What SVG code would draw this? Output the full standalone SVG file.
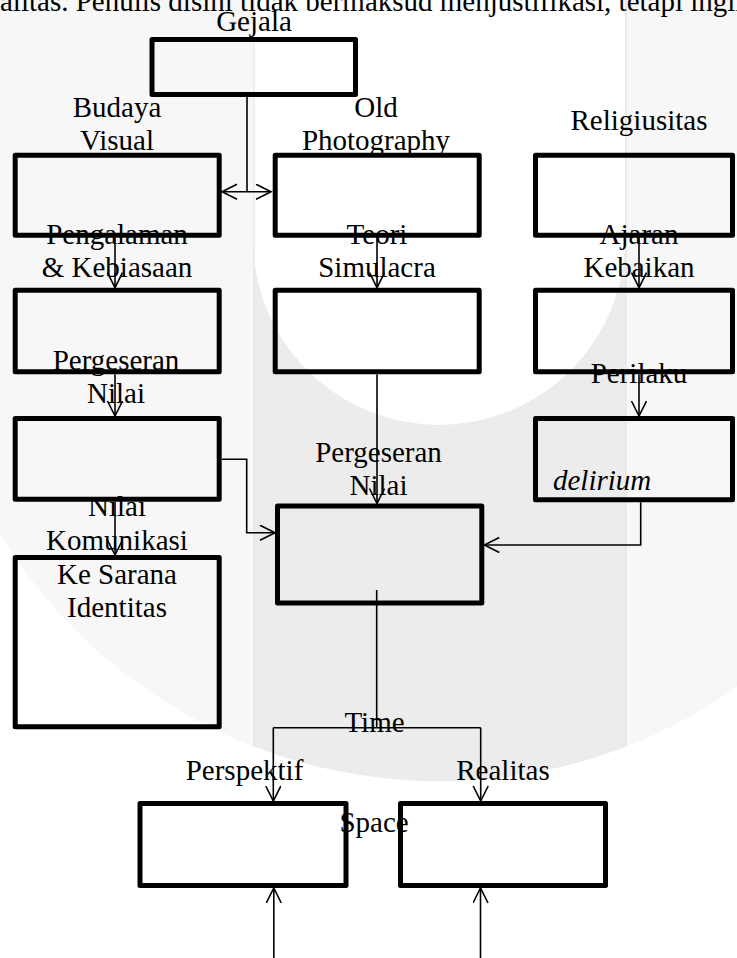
<svg xmlns="http://www.w3.org/2000/svg" width="737" height="958" viewBox="0 0 737 958">
<style>
.t{font-family:"Liberation Serif","Times New Roman",serif;font-size:29px;fill:#000;text-anchor:middle}
.box{fill:none;stroke:#000;stroke-width:5;stroke-linejoin:round}
.c{fill:none;stroke:#000;stroke-width:1.6}
.a{marker-end:url(#ah)}
</style>
<defs>
<marker id="ah" markerUnits="userSpaceOnUse" markerWidth="20" markerHeight="20" refX="16" refY="8" orient="auto-start-reverse">
<path d="M1,0.5 L16,8 L1,15.5" fill="none" stroke="#000" stroke-width="1.6"/>
</marker>
<clipPath id="wm"><path d="M0,0 H737 V687 A515,515 0 0 1 0,534 Z"/></clipPath>
</defs>
<g id="watermark">
<rect x="0" y="0" width="737" height="958" fill="#fff"/>
<g clip-path="url(#wm)">
<rect x="0" y="0" width="254" height="958" fill="#f7f7f7"/>
<rect x="254" y="0" width="372" height="958" fill="#ececec"/>
<rect x="626" y="0" width="111" height="958" fill="#f7f7f7"/>
<path d="M253,0 H625 V239 A186,186 0 0 1 253,239 Z" fill="#fff"/>
<path d="M254,0 V958 M626,0 V958" stroke="#e3e3e3" stroke-width="1.2"/>
</g>
</g>
<text class="t" x="0" y="11" style="text-anchor:start">alitas. Penulis disini tidak bermaksud menjustifikasi, tetapi ingin</text>
<g id="gejala"><rect class="box" x="152" y="39.5" width="203.5" height="55"/><text class="t" x="254" y="31">Gejala</text></g>
<g id="budaya-visual"><rect class="box" x="15.2" y="155.2" width="204" height="80"/><text class="t" x="117" y="117">Budaya</text><text class="t" x="117" y="150">Visual</text></g>
<g id="old-photography"><rect class="box" x="275.2" y="155.2" width="204" height="80"/><text class="t" x="376" y="117">Old</text><text class="t" x="376" y="150">Photography</text></g>
<g id="religiusitas"><rect class="box" x="535.5" y="155.2" width="197" height="80"/><text class="t" x="639" y="130">Religiusitas</text></g>
<g id="pengalaman"><rect class="box" x="15.2" y="290.2" width="204" height="81.6"/><text class="t" x="117" y="244">Pengalaman</text><text class="t" x="117" y="277">&amp; Kebiasaan</text></g>
<g id="teori-simulacra"><rect class="box" x="275.2" y="290.2" width="204" height="81.6"/><text class="t" x="377" y="244">Teori</text><text class="t" x="377" y="277">Simulacra</text></g>
<g id="ajaran-kebaikan"><rect class="box" x="535.5" y="290.2" width="197" height="81.6"/><text class="t" x="639" y="244">Ajaran</text><text class="t" x="639" y="277">Kebaikan</text></g>
<g id="pergeseran-nilai-left"><rect class="box" x="15.2" y="418.5" width="204" height="80.7"/><text class="t" x="116" y="370">Pergeseran</text><text class="t" x="116" y="403">Nilai</text></g>
<g id="perilaku"><rect class="box" x="535.5" y="418.5" width="197" height="81.3"/><text class="t" x="639" y="383">Perilaku</text><text class="t" x="553" y="490" style="text-anchor:start;font-style:italic">delirium</text></g>
<g id="pergeseran-nilai-center"><rect class="box" x="277.5" y="506" width="204.3" height="97"/><text class="t" x="378.5" y="461.5">Pergeseran</text><text class="t" x="378.5" y="495">Nilai</text></g>
<g id="nilai-komunikasi"><rect class="box" x="15.2" y="557.5" width="204" height="169.3"/><text class="t" x="117" y="516">Nilai</text><text class="t" x="117" y="549.5">Komunikasi</text><text class="t" x="117" y="583.5">Ke Sarana</text><text class="t" x="117" y="617">Identitas</text></g>
<g id="perspektif"><rect class="box" x="140" y="803.5" width="206" height="82"/><text class="t" x="244.5" y="780">Perspektif</text></g>
<g id="realitas"><rect class="box" x="400.5" y="803.5" width="205" height="82"/><text class="t" x="503" y="780">Realitas</text></g>
<text class="t" x="374.5" y="732">Time</text>
<text class="t" x="374" y="832">Space</text>
<g id="connectors">
<path class="c" d="M247,97 V191.7"/>
<path class="c" d="M222,191.7 H271" marker-start="url(#ah)" marker-end="url(#ah)"/>
<path class="c a" d="M115,237.7 V287.7"/>
<path class="c a" d="M377,237.7 V287.7"/>
<path class="c a" d="M639,237.7 V287.7"/>
<path class="c a" d="M115,374.3 V416"/>
<path class="c a" d="M377,374.3 V503.5"/>
<path class="c a" d="M639,374.3 V416"/>
<path class="c a" d="M222,459.3 H246.7 V532.7 H275"/>
<path class="c a" d="M640.7,502.3 V545 H484.3"/>
<path class="c a" d="M115,501.7 V555"/>
<path class="c" d="M376.7,590 V727.7 M273.3,727.7 H480.7"/>
<path class="c a" d="M273.3,727.7 V801"/>
<path class="c a" d="M480.7,727.7 V801"/>
<path class="c a" d="M273.8,958 V888"/>
<path class="c a" d="M480.5,958 V888"/>
</g>
</svg>
